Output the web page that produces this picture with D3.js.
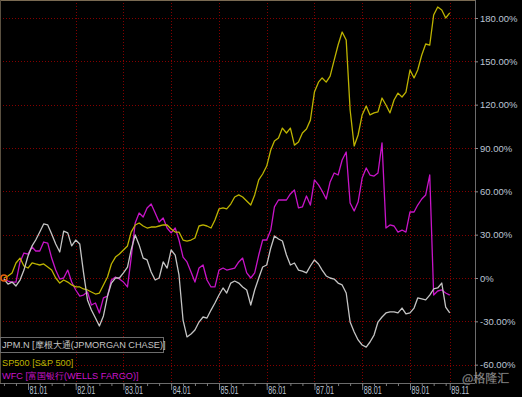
<!DOCTYPE html>
<html>
<head>
<meta charset="utf-8">
<script src="https://cdn.jsdelivr.net/npm/d3@7"></script>
<style>
  body { margin: 0; background: #000; }
  svg { display: block; font-family: "Liberation Sans", Arial, sans-serif; }
</style>
</head>
<body>
<svg width="522" height="397"></svg>
<script>
// monthly points, Jul 1980 .. Nov 1989 (% change from start)
var months = d3.timeMonth.range(new Date(1980, 6, 1), new Date(1989, 11, 1));

var jpm = [-0.7, -4.2, -2.8, -5.5, -1.4, 5.5, 15.2, 22.2, 26.3, 31.8, 37.4, 36.7, 30.5, 23.5, 18.0, 32.5,
  31.2, 22.2, 26.3, 23.5, 4.2, -15.2, -22.2, -27.7, -33.2, -26.3, -12.5, -3.5, 0, 0, 3.5, 7.6,
  19.4, 29.8, 22.9, 13.8, 12.5, 4.2, -1.4, 0, 11.1, 6.9, 19.4, 15.9, 2.1, -29.1, -40.8, -38.8,
  -36.0, -30.5, -27.0, -27.7, -22.2, -17.3, -11.8, -6.9, -10.4, -3.5, -2.1, -3.5, -6.2, -8.3, -18.7, -8.3,
  0, 7.6, 9.0, 20.8, 29.1, 27.0, 25.6, 15.9, 9.0, 10.4, 5.5, 4.8, 3.5, 8.3, 12.5, 9.7,
  5.5, 1.4, 0, -0.7, -3.5, -4.8, -10.4, -30.5, -37.4, -42.9, -46.4, -47.8, -44.3, -39.5, -30.5, -27.0,
  -24.2, -23.5, -23.5, -24.2, -20.8, -24.9, -24.2, -20.8, -13.8, -14.5, -15.2, -11.8, -7.6, -6.9, -3.5, -20.1, -24.2];

var sp500 = [0, 1.4, 3.5, 10.4, 13.8, 8.3, 6.9, 10.4, 9.7, 9.0, 9.7, 7.6, 5.5, 0, -3.5, -1.4,
  -2.8, -4.8, -6.2, -6.2, -7.6, -8.3, -9.7, -11.1, -10.4, -4.8, 0.7, 9.7, 14.5, 16.6, 19.4, 22.2,
  31.8, 36.7, 38.1, 36.0, 34.6, 35.3, 35.3, 36.0, 36.7, 36.7, 33.9, 31.8, 31.8, 26.3, 25.6, 26.3,
  27.7, 36.0, 36.7, 36.0, 34.6, 40.2, 47.8, 48.5, 47.8, 51.2, 56.1, 57.5, 56.1, 53.3, 50.5, 57.5,
  67.9, 72.0, 77.5, 88.6, 94.8, 96.9, 103.8, 100.4, 103.8, 92.0, 94.1, 100.4, 103.1, 109.3, 128.7, 135.6,
  138.5, 135.6, 139.8, 150.8, 161.3, 170.3, 164.8, 116.3, 91.4, 99.0, 112.9, 119.1, 112.9, 114.3, 115.0, 124.6,
  119.8, 114.3, 123.2, 128.0, 125.3, 128.7, 144.0, 138.5, 144.0, 154.4, 162.0, 161.3, 182.1, 187.6, 185.5, 180.0, 183.5];

var wfc = [-0.7, -2.1, -2.8, -2.8, 11.1, 17.3, 16.6, 21.5, 18.7, 18.7, 24.9, 24.2, 13.8, 5.5, -0.7, 0,
  5.5, -2.8, -8.3, -12.5, -11.8, -9.7, -18.7, -17.3, -24.2, -13.8, -12.5, -1.4, 0.7, -0.7, -2.8, -6.2,
  13.8, 38.1, 45.0, 42.2, 48.5, 51.2, 45.0, 38.8, 41.5, 34.6, 31.2, 34.6, 26.3, 14.5, 11.1, 4.2,
  -2.8, 6.9, 9.0, -1.4, -6.2, -6.2, 5.5, 6.9, 5.5, 6.2, 6.9, 11.1, 13.8, 3.5, 0, 3.5,
  15.9, 26.3, 26.3, 33.2, 49.2, 54.0, 54.0, 54.0, 58.2, 60.9, 48.5, 49.2, 56.8, 50.5, 67.9, 64.5,
  60.2, 54.7, 66.5, 72.7, 71.3, 81.7, 87.2, 51.9, 46.4, 52.6, 69.2, 76.2, 71.3, 70.6, 72.7, 93.5,
  34.6, 36.7, 36.0, 31.8, 33.2, 31.8, 45.7, 45.7, 50.5, 54.7, 57.5, 71.3, -11.8, -9.0, -8.3, -10.4, -11.8];

var yTicks = [-60, -30, 0, 30, 60, 90, 120, 150, 180];
var xTickDates = [new Date(1981, 0, 1), new Date(1982, 0, 1), new Date(1983, 0, 1), new Date(1984, 0, 1),
  new Date(1985, 0, 1), new Date(1986, 0, 1), new Date(1987, 0, 1), new Date(1988, 0, 1),
  new Date(1989, 0, 1), new Date(1989, 10, 1)];
var xTickLabels = ["81.01", "82.01", "83.01", "84.01", "85.01", "86.01", "87.01", "88.01", "89.01", "89.11"];

var seriesNames = ["JPM.N [摩根大通(JPMORGAN CHASE)]", "SP500 [S&P 500]", "WFC [富国银行(WELLS FARGO)]"];
var seriesColors = ["#c4c4c4", "#bdb300", "#c814c8"];

var svg = d3.select("svg"),
  plotRight = 475,
  plotBottom = 383;

var x = d3.scaleTime()
  .domain([new Date(1981, 0, 1), new Date(1989, 0, 1)])
  .range([28, 410]);
var y = d3.scaleLinear().domain([0, 180]).range([278, 18]);

// grid (dotted dark red)
var grid = svg.append("g");
grid.selectAll(".hgrid")
  .data(yTicks)
  .enter().append("line")
  .attr("x1", 0).attr("x2", plotRight)
  .attr("y1", function (d) { return Math.round(y(d)) + 0.5; })
  .attr("y2", function (d) { return Math.round(y(d)) + 0.5; })
  .attr("stroke", "#840000")
  .attr("stroke-dasharray", "1,2");
grid.selectAll(".vgrid")
  .data(xTickDates.slice(1))
  .enter().append("line")
  .attr("x1", function (d) { return Math.round(x(d)) + 0.5; })
  .attr("x2", function (d) { return Math.round(x(d)) + 0.5; })
  .attr("y1", 0).attr("y2", plotBottom)
  .attr("stroke", "#840000")
  .attr("stroke-dasharray", "1,2");

// border
svg.append("line").attr("x1", 0).attr("x2", plotRight).attr("y1", 0.5).attr("y2", 0.5).attr("stroke", "#7a6a52");
svg.append("line").attr("x1", 0.5).attr("x2", 0.5).attr("y1", 0).attr("y2", plotBottom).attr("stroke", "#5a5040");

// lines
var line = d3.line()
  .x(function (d, i) { return x(months[i]); })
  .y(function (d) { return y(d); });

var allSeries = [wfc, sp500, jpm];
var allColors = [seriesColors[2], seriesColors[1], seriesColors[0]];
svg.selectAll(".series")
  .data(allSeries)
  .enter().append("path")
  .attr("class", "series")
  .attr("d", line)
  .attr("fill", "none")
  .attr("stroke", function (d, i) { return allColors[i]; })
  .attr("stroke-width", 1.3)
  .attr("stroke-linejoin", "round");

svg.append("circle")
  .attr("cx", x(months[0]))
  .attr("cy", y(0))
  .attr("r", 3)
  .attr("fill", "none")
  .attr("stroke", "#e8600c")
  .attr("stroke-width", 1.6);

// right axis
var yAxis = svg.append("g")
  .attr("transform", "translate(" + plotRight + ",0)")
  .call(d3.axisRight(y).tickValues(yTicks).tickSize(3).tickPadding(2)
    .tickFormat(function (d) { return d === 0 ? "0%" : d.toFixed(2) + "%"; }));
yAxis.select(".domain").attr("stroke", "#6c6c6c").attr("d", "M0.5,0V" + plotBottom);
yAxis.selectAll(".tick line").attr("stroke", "#8a8a8a");
yAxis.selectAll("text")
  .attr("fill", "#bcc4d4")
  .style("font-size", "9.5px")
  .style("font-family", "'Liberation Sans', Arial, sans-serif");

// bottom axis
var quarters = d3.timeMonth.every(3).range(new Date(1980, 6, 1), new Date(1989, 11, 1));
var xMinor = svg.append("g")
  .attr("transform", "translate(0," + plotBottom + ")")
  .call(d3.axisBottom(x).tickValues(quarters).tickSize(3).tickFormat(""));
xMinor.select(".domain").attr("stroke", "#6c6c6c").attr("d", "M0,0.5H" + plotRight);
xMinor.selectAll(".tick line").attr("stroke", "#7a7a7a");

var xAxis = svg.append("g")
  .attr("transform", "translate(0," + plotBottom + ")")
  .call(d3.axisBottom(x).tickValues(xTickDates).tickSize(7)
    .tickFormat(function (d, i) { return xTickLabels[i]; }));
xAxis.select(".domain").remove();
xAxis.selectAll(".tick line").attr("stroke", "#7a7a7a");
xAxis.selectAll("text")
  .attr("fill", "#bcc4d4")
  .attr("text-anchor", "start")
  .attr("x", 1)
  .attr("y", 4)
  .attr("dy", "0.71em")
  .attr("textLength", 18)
  .attr("lengthAdjust", "spacingAndGlyphs")
  .style("font-size", "10px")
  .style("font-family", "'Liberation Sans', Arial, sans-serif");

// legend
svg.append("rect")
  .attr("x", 0.5).attr("y", 337.5)
  .attr("width", 163).attr("height", 15)
  .attr("fill", "#000").attr("fill-opacity", 0.6)
  .attr("stroke", "#6c6c6c");
var legendY = [347.5, 366, 378.5];
svg.selectAll(".legend")
  .data(seriesNames)
  .enter().append("text")
  .attr("x", 2)
  .attr("y", function (d, i) { return legendY[i]; })
  .attr("fill", function (d, i) { return seriesColors[i]; })
  .style("font-size", "9.2px")
  .text(function (d) { return d; });

// watermark
svg.append("text")
  .attr("x", 462).attr("y", 383)
  .attr("fill", "#e0e0e0")
  .attr("fill-opacity", 0.85)
  .attr("stroke", "#333")
  .attr("stroke-width", 0.3)
  .style("font-size", "12px")
  .style("font-family", "'Noto Sans CJK SC', sans-serif")
  .text("@格隆汇");
</script>
</body>
</html>
